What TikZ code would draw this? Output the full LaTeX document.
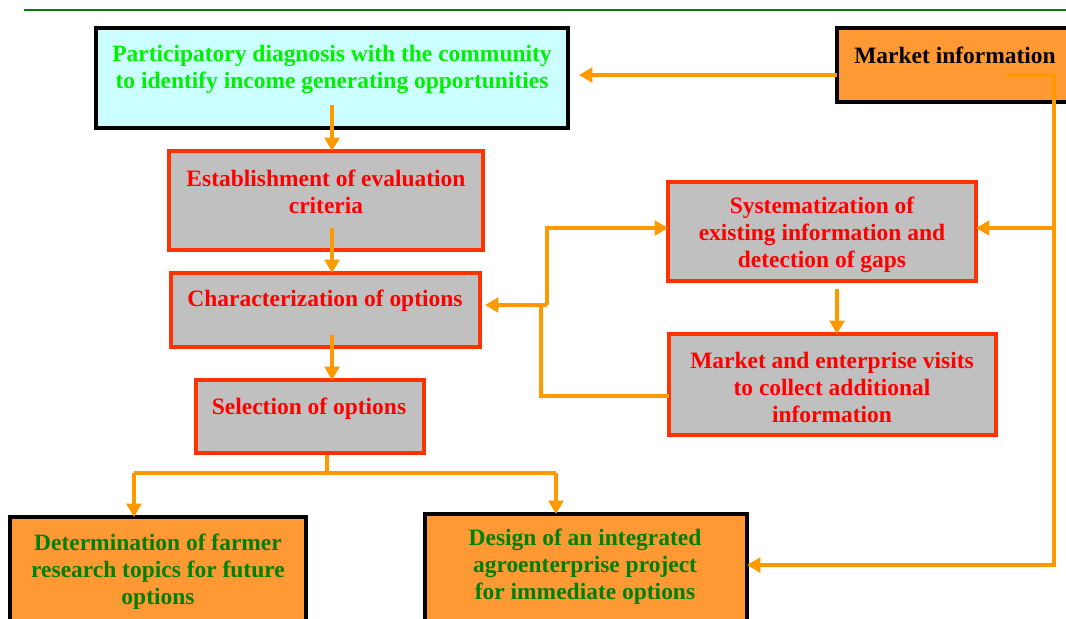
\documentclass[tikz,border=0pt]{standalone}
\usepackage{fontspec}
\setmainfont{Liberation Serif}
\usetikzlibrary{arrows.meta,calc}
\definecolor{boxred}{RGB}{255,51,0}
\definecolor{boxgray}{RGB}{192,192,192}
\definecolor{boxorange}{RGB}{255,153,51}
\definecolor{boxcyan}{RGB}{204,255,255}
\definecolor{arrorange}{RGB}{255,153,0}
\definecolor{txtred}{RGB}{255,0,0}
\definecolor{txtlime}{RGB}{0,240,0}
\definecolor{txtgreen}{RGB}{0,128,0}
\definecolor{rulegreen}{RGB}{0,128,0}
\tikzset{
  box/.style={draw, line width=2.4pt, inner sep=0pt, outer sep=0pt},
  graybox/.style={box, draw=boxred, fill=boxgray},
  orbox/.style={box, draw=black, fill=boxorange},
  cybox/.style={box, draw=black, fill=boxcyan},
  lbl/.style={font=\fontsize{17.6}{20.25}\selectfont\bfseries, align=center, inner sep=0pt},
  conn/.style={draw=arrorange, line width=2.6pt},
  arr/.style={conn, -{Triangle[length=10pt,width=11pt]}},
}
\begin{document}
\begin{tikzpicture}[x=0.75pt,y=-0.75pt]
\useasboundingbox (0,0) rectangle (1066,618);
% top rule
\draw[rulegreen, line width=1.8pt] (24,10) -- (1070,10);
% boxes
\node[cybox, minimum width=472*0.75pt, minimum height=100*0.75pt] (p1) at (332,78) {};
\node[orbox, minimum width=238*0.75pt, minimum height=74*0.75pt] (mkt) at (956,65) {};
\node[graybox, minimum width=314*0.75pt, minimum height=99*0.75pt] (est) at (326,200.5) {};
\node[graybox, minimum width=309*0.75pt, minimum height=74*0.75pt] (char) at (325.5,310) {};
\node[graybox, minimum width=228*0.75pt, minimum height=73*0.75pt] (sel) at (310,416.5) {};
\node[graybox, minimum width=308*0.75pt, minimum height=99*0.75pt] (sys) at (822,231.5) {};
\node[graybox, minimum width=327*0.75pt, minimum height=101*0.75pt] (vis) at (832.5,384.5) {};
\node[orbox, minimum width=296*0.75pt, minimum height=123*0.75pt] (det) at (158,578.5) {};
\node[orbox, minimum width=322*0.75pt, minimum height=126*0.75pt] (des) at (586,577) {};
% texts
\node[lbl, text=txtlime] (tp1) at (332,69) {Participatory diagnosis with the community\\to identify income generating opportunities};
\node[lbl, text=black] (tmkt) at (955,55.5) {Market information};
\node[lbl, text=txtred] (test) at (326,192) {Establishment of evaluation\\criteria};
\node[lbl, text=txtred] (tchar) at (325,300.5) {Characterization of options};
\node[lbl, text=txtred] (tsel) at (309,408.5) {Selection of options};
\node[lbl, text=txtred] (tsys) at (822,235) {Systematization of\\existing information and\\detection of gaps};
\node[lbl, text=txtred] (tvis) at (832,387) {Market and enterprise visits\\to collect additional\\information};
\node[lbl, text=txtgreen] (tdet) at (158,572) {Determination of farmer\\research topics for future\\options};
\node[lbl, text=txtgreen] (tdes) at (585,566.5) {Design of an integrated\\agroenterprise project\\for immediate options};
% helper coordinates
\coordinate (m0) at ($(mkt.west)+(0,10)$);
\coordinate (p1r) at ($(p1.east)+(11,-3)$);
\coordinate (ms) at (1007,75);
\coordinate (tr1) at (1054,75);
\coordinate (tr2) at (1054,565);
\coordinate (tr3) at (1054,228);
\coordinate (a1) at (332,105);
\coordinate (a2) at (332,228);
\coordinate (a3) at (332,335);
\coordinate (s0) at (327,455);
\coordinate (s1) at (327,473);
\coordinate (bl) at (134,473);
\coordinate (br) at (556,473);
\coordinate (y0) at (837,289);
\coordinate (j0) at (669,396);
\coordinate (j1) at (541,396);
\coordinate (j2) at (541,305);
\coordinate (j3) at (547,305);
\coordinate (j4) at (547,228);
\coordinate (ce) at (485,305);
% connectors
\draw[arr] (m0) -- (p1r);
\draw[conn] (ms) -- (tr1) -- (tr3);
\draw[arr] (tr3) -- (tr2) -- (des.east |- tr2);
\draw[arr] (tr3) -- (sys.east |- tr3);
\draw[arr] (a1) -- (a1 |- est.north);
\draw[arr] (a2) -- (a2 |- char.north);
\draw[arr] (a3) -- (a3 |- sel.north);
\draw[conn] (s0) -- (s1);
\draw[conn] (bl) -- (br);
\draw[arr] (bl) -- (bl |- det.north);
\draw[arr] (br) -- (br |- des.north);
\draw[arr] (y0) -- (y0 |- vis.north);
\draw[conn] (j0) -- (j1) -- (j2);
\draw[arr] (j3) -- (ce);
\draw[arr] (j3) -- (j4) -- (sys.west |- j4);
\end{tikzpicture}
\end{document}
